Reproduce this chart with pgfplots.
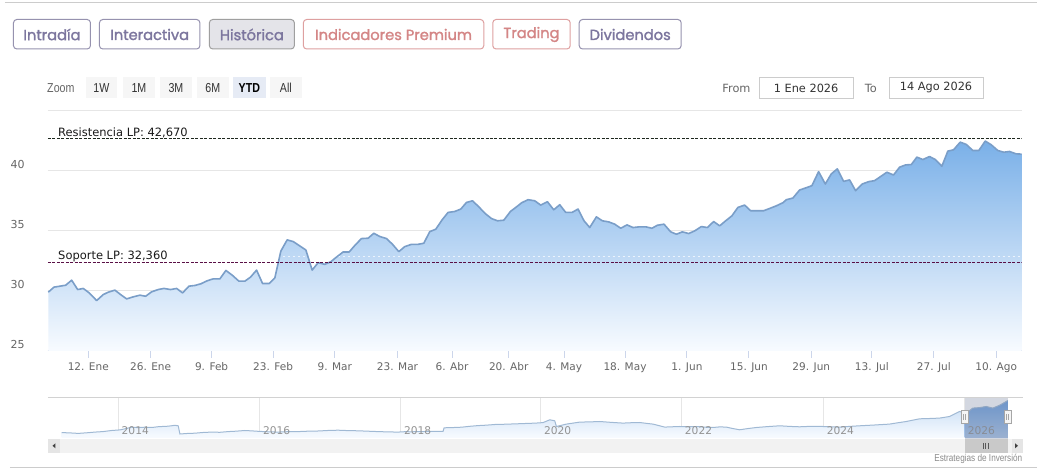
\documentclass[border=0pt]{standalone}
\usepackage{pgfplots}
\pgfplotsset{compat=1.18}
\usepackage{pgfplotstable}
\usepackage{fontspec}
\setmainfont{DejaVu Sans}
\newfontfamily\pop{Poppins}[FakeBold=1.6]
\newfontfamily\narrow{Liberation Sans}[FakeStretch=0.82]
\newfontfamily\lib{Liberation Sans}

\definecolor{btnpurple}{RGB}{124,118,158}
\definecolor{btnpurpleb}{RGB}{150,146,175}
\definecolor{btnred}{RGB}{212,134,134}
\definecolor{btnredb}{RGB}{222,160,160}
\definecolor{histfill}{RGB}{228,228,233}
\definecolor{gridc}{RGB}{230,230,230}
\definecolor{axisc}{RGB}{204,214,235}
\definecolor{tickc}{RGB}{102,102,102}
\definecolor{linec}{RGB}{122,158,200}
\definecolor{areatop}{RGB}{122,176,232}
\definecolor{areabot}{RGB}{248,251,255}
\definecolor{supc}{RGB}{90,16,70}
\definecolor{resc}{RGB}{30,40,30}
\definecolor{navtop}{RGB}{196,219,244}
\definecolor{navline}{RGB}{160,185,212}
\definecolor{navseltop}{RGB}{110,160,222}
\definecolor{navselbot}{RGB}{175,200,232}
\definecolor{ytdbg}{RGB}{230,235,245}
\definecolor{zbtn}{RGB}{246,246,246}

\pgfplotstableread{
x y
48.3 29.89
54 30.31
60 30.39
65.7 30.47
71.7 30.89
77.7 30.11
83.3 30.2
89.3 29.83
96.7 29.19
103.3 29.69
108.3 29.89
115 30.06
120.7 29.69
126.7 29.33
133.3 29.5
140 29.64
145.7 29.55
151.7 29.92
158.3 30.11
164 30.2
170.7 30.11
176.7 30.2
182.7 29.83
189 30.39
195 30.45
201 30.59
207.3 30.84
213.3 31.0
220 31.0
226 31.7
232.3 31.31
239 30.81
245 30.81
250.7 31.15
256.7 31.73
262.7 30.61
269.3 30.61
275 31.09
281 33.32
287.3 34.25
293.3 34.11
300 33.74
306 33.41
312.3 31.73
318.3 32.35
325 32.21
331 32.43
336.7 32.82
343.3 33.24
349.3 33.24
356 33.88
361.7 34.36
368.3 34.39
374 34.80
380 34.53
386.7 34.36
392.7 33.88
399 33.27
405 33.69
411.7 33.88
418.3 33.88
424 33.97
430 34.94
436 35.14
442.3 35.92
448.3 36.54
455 36.62
461 36.82
466.7 37.37
472.7 37.51
479 37.01
485 36.48
491.7 36.03
497.7 35.84
504 35.89
510.7 36.62
516.7 37.0
522 37.35
528.3 37.60
535 37.51
541 37.15
547.7 37.43
554 36.76
560 37.18
566 36.54
572.3 36.54
578.3 36.82
584.3 35.84
590 35.28
596.7 36.17
602.7 35.84
609 35.75
615 35.56
621 35.22
627.3 35.50
633.3 35.28
640 35.34
646 35.34
652.3 35.22
657.7 35.47
664.3 35.56
671 34.92
676.7 34.72
682.7 34.92
689 34.78
695 35.0
701.7 35.36
707.7 35.28
714 35.78
720 35.42
726 35.84
732.3 36.26
738.3 36.96
745 37.15
751 36.68
757.7 36.68
764 36.68
770 36.87
776.7 37.09
783.3 37.35
786.7 37.60
793.3 37.74
800 38.41
806 38.58
812.3 38.77
819 39.94
825.7 38.91
831.7 39.75
837.7 40.17
844 39.13
850 39.25
856 38.35
862.7 38.91
869.3 39.11
875 39.19
881 39.53
887.3 39.89
894 39.66
900 40.31
906 40.50
911.7 40.53
917.3 41.15
923.3 40.95
930 41.20
935.7 40.95
942.3 40.39
948.3 41.65
954 41.76
960.7 42.40
966.7 42.21
973.3 41.70
979.3 41.70
985.7 42.49
991.7 42.18
998.3 41.70
1004.3 41.56
1010 41.62
1016.7 41.42
1022 41.40
}\maindata

\pgfplotstableread{
x y
61.7 41.2
70 40.9
78.3 40.4
87 41.0
95 41.7
103 42.2
111.7 43.3
120 43.9
126 45.2
131.7 46.6
138 46.2
145 46.6
152 46.3
158.3 47.1
168.3 47.6
175 48.5
178.3 48.0
180 39.8
187 40.3
195 40.6
203 41.3
211.7 41.7
220 41.5
228.3 42.2
236 42.6
245 43.3
252 42.9
258.3 42.5
268 42.0
278.3 41.7
288 42.1
298.3 42.2
308 42.6
318.3 42.8
328 43.3
338.3 43.6
348 43.2
358.3 43.0
368 42.6
378.3 42.2
388 41.9
398.3 41.7
405 42.1
411.7 42.0
425 42.3
443.3 42.5
444.3 46.0
452 46.2
461.7 46.6
470 47.5
478.3 48.2
486 48.6
495 49.3
503 49.5
511.7 49.8
520 50.1
528.3 50.4
536 50.7
543.3 51.2
550 54.0
555 53.0
556.7 47.3
566.7 49.7
574 50.8
580 51.7
590 51.9
600 52.3
612 51.4
623.3 50.7
632 51.1
640 51.3
647 50.4
653.3 49.7
660 48.0
665 46.7
672 47.0
680 47.3
688 47.0
696.7 47.3
705 46.6
713.3 46.3
720 46.9
726.7 46.7
733 45.3
740 44.0
748 45.2
756.7 46.3
768 47.2
780 48.0
790 47.4
800 47.0
812 47.5
823.3 47.3
832 46.9
840 46.7
850 47.4
860 48.0
875 48.8
890 49.7
898 51.0
906.7 52.3
913 53.6
920 55.0
930 55.3
940 55.7
950 57.3
960 62.3
965 61.2
966.7 60.7
973.3 65.7
980 66.2
986.7 67.3
993.3 65.7
1000 68.5
1006.7 72.3
1008.3 73.3
}\navdata

\begin{document}
\begin{tikzpicture}
\begin{scope}[x=0.75pt,y=-0.75pt]
\path[use as bounding box, fill=white] (0,0) rectangle (1037,474);
\draw[color=gray!40, line width=0.75pt] (5,2.5) -- (1037,2.5);
% top buttons
\tikzset{btn/.style={line width=0.75pt, rounded corners=2.5pt}}
\draw[btn, btnpurpleb] (13.5,19.5) rectangle (90.5,49);
\node[text=btnpurple, font=\pop\fontsize{11}{13}\selectfont] at (52,34.5) {Intradía};
\draw[btn, btnpurpleb] (99.5,19.5) rectangle (200,49);
\node[text=btnpurple, font=\pop\fontsize{11}{13}\selectfont] at (149.75,34.5) {Interactiva};
\filldraw[btn, fill=histfill, draw=gray!75] (209.5,19.5) rectangle (294.5,49);
\node[text=btnpurple, font=\pop\fontsize{11}{13}\selectfont] at (252,34.5) {Histórica};
\draw[btn, btnredb] (303.5,19.5) rectangle (484,49);
\node[text=btnred, font=\pop\fontsize{11}{13}\selectfont] at (393.75,34.5) {Indicadores Premium};
\draw[btn, btnredb] (493,19.5) rectangle (570.5,49);
\node[text=btnred, font=\pop\fontsize{11}{13}\selectfont] at (531.75,34.5) {Trading};
\draw[btn, btnpurpleb] (579.5,19.5) rectangle (681.5,49);
\node[text=btnpurple, font=\pop\fontsize{11}{13}\selectfont] at (630.5,34.5) {Dividendos};
% zoom row
\node[anchor=west, inner sep=0pt, text=tickc, font=\narrow\fontsize{9.75}{11}\selectfont] at (47,88) {Zoom};
\fill[zbtn] (86,77) rectangle (117,98);
\node[text=black!80, font=\narrow\fontsize{9.75}{11}\selectfont] at (101.5,88) {1W};
\fill[zbtn] (123,77) rectangle (155,98);
\node[text=black!80, font=\narrow\fontsize{9.75}{11}\selectfont] at (139,88) {1M};
\fill[zbtn] (160,77) rectangle (192,98);
\node[text=black!80, font=\narrow\fontsize{9.75}{11}\selectfont] at (176,88) {3M};
\fill[zbtn] (197,77) rectangle (229,98);
\node[text=black!80, font=\narrow\fontsize{9.75}{11}\selectfont] at (213,88) {6M};
\fill[ytdbg] (233,77) rectangle (266,98);
\node[text=black, font=\narrow\bfseries\fontsize{9.75}{11}\selectfont] at (249.5,88) {YTD};
\fill[zbtn] (270,77) rectangle (302,98);
\node[text=black!80, font=\narrow\fontsize{9.75}{11}\selectfont] at (286,88) {All};
% from / to
\node[anchor=west, inner sep=0pt, text=tickc, font=\fontsize{8.5}{10}\selectfont] at (722.5,88) {From};
\draw[gray!40, line width=0.75pt] (759.5,77.5) rectangle (853.5,98.5);
\node[text=black!80, font=\fontsize{8.5}{10}\selectfont] at (806.5,88) {1 Ene 2026};
\node[anchor=west, inner sep=0pt, text=tickc, font=\fontsize{8.5}{10}\selectfont] at (865,88) {To};
\draw[gray!40, line width=0.75pt] (889.5,77.5) rectangle (983.5,98.5);
\node[text=black!80, font=\fontsize{8.5}{10}\selectfont] at (936.5,88) {14 Ago 2026};
\end{scope}

% main chart
\begin{axis}[
  at={(36pt,-263.25pt)}, anchor=south west, scale only axis,
  width=730.5pt, height=180pt,
  xmin=48, xmax=1022, ymin=25, ymax=45,
  axis x line*=bottom, axis y line*=left,
  x axis line style={color=axisc, line width=0.75pt},
  y axis line style={draw=none},
  tick align=outside, major tick length=5.25pt,
  xtick style={color=axisc, line width=0.75pt},
  ytick style={draw=none},
  ymajorgrids, grid style={color=gridc, line width=0.75pt},
  ytick={25,30,35,40,45}, yticklabels={25,30,35,40,{}},
  xtick={88.3,150.7,211.7,273.3,335,397.7,452.3,509,564.3,625.3,687.3,749.3,811.7,872.3,934.3,996.7},
  xticklabels={12. Ene,26. Ene,9. Feb,23. Feb,9. Mar,23. Mar,6. Abr,20. Abr,4. May,18. May,1. Jun,15. Jun,29. Jun,13. Jul,27. Jul,10. Ago},
  yticklabel style={anchor=east, inner sep=0pt, xshift=-12pt, yshift=4.5pt, font=\fontsize{8.25}{10}\selectfont, text=tickc},
  xticklabel style={anchor=base, inner sep=0pt, yshift=-9.5pt, font=\fontsize{7.9}{10}\selectfont, text=tickc},
  clip=true,
]
\addplot[draw=none, top color=areatop, bottom color=areabot] table[x=x,y=y] {\maindata} \closedcycle;
\addplot[white, line width=0.75pt, dash pattern=on 1.5pt off 2.25pt, opacity=0.7] coordinates {(48,32.86) (1022,32.86)};
\addplot[linec, line width=1.2pt, line join=round] table[x=x,y=y] {\maindata};
\addplot[resc, line width=0.75pt, dash pattern=on 2.25pt off 1.1pt] coordinates {(48,42.67) (1022,42.67)};
\addplot[supc, line width=0.75pt, dash pattern=on 2.25pt off 1.1pt] coordinates {(48,32.36) (1022,32.36)};
\end{axis}

% navigator
\begin{axis}[
  at={(36pt,-328.5pt)}, anchor=south west, scale only axis,
  width=731.25pt, height=30.75pt,
  xmin=48, xmax=1023, ymin=36, ymax=77,
  axis line style={draw=none}, tick style={draw=none},
  xtick={118.5,260,401,541,682,824,965}, xticklabels={},
  ytick=\empty,
  xmajorgrids, grid style={color=gridc, line width=0.75pt},
  clip=true,
]
\addplot[draw=none, top color=navtop, bottom color=areabot] table[x=x,y=y] {\navdata} \closedcycle;
\addplot[draw=none, top color=navseltop, bottom color=navselbot, restrict x to domain=965:1009] table[x=x,y=y] {\navdata} \closedcycle;
\addplot[navline, line width=0.75pt] table[x=x,y=y] {\navdata};
\end{axis}

\begin{scope}[x=0.75pt,y=-0.75pt]
\node[anchor=base west, inner sep=0pt, text=black!90, font=\fontsize{8.6}{10}\selectfont] at (58,137) {Resistencia LP: 42,670};
\node[anchor=base west, inner sep=0pt, text=black!90, font=\fontsize{8.6}{10}\selectfont] at (58,260) {Soporte LP: 32,360};
% navigator decorations
\draw[gray!35, line width=0.75pt] (48,397.5) -- (1023,397.5);
\foreach \xx/\yy in {121.5/2014,263/2016,404/2018,544/2020,685/2022,827/2024,968/2026}
  \node[anchor=west, inner sep=0pt, text=gray!85, font=\fontsize{8}{10}\selectfont] at (\xx,431) {\yy};
% scrollbar
\fill[gray!10] (48,439) rectangle (1023,453);
\fill[gray!20] (48,439) rectangle (60,453);
\fill[gray!20] (1012,439) rectangle (1023,453);
\fill[black!75] (52.5,446) -- (55.5,443.5) -- (55.5,448.5) -- cycle;
\fill[black!75] (1018.5,446) -- (1015.5,443.5) -- (1015.5,448.5) -- cycle;
\fill[gray!42] (965,439) rectangle (1008,453);
\foreach \gx in {983.5,986,988.5} \draw[black!65, line width=0.75pt] (\gx,443) -- (\gx,449);
% selection shade
\fill[fill={rgb,255:red,110;green,125;blue,155}, fill opacity=0.3] (965,398) rectangle (1008,439);
% handles
\foreach \hx in {965,1008} {
  \filldraw[fill=gray!8, draw=gray!70, line width=0.6pt] (\hx-3.5,411) rectangle (\hx+3.5,424);
  \draw[gray!70, line width=0.6pt] (\hx-1,414.5) -- (\hx-1,420.5) (\hx+1,414.5) -- (\hx+1,420.5);
}
\node[anchor=base east, inner sep=0pt, text=gray!90, font=\narrow\fontsize{7.5}{9}\selectfont] at (1023,462) {Estrategias de Inversión};
\draw[gray!40, line width=0.75pt] (10,467.5) -- (1037,467.5);
\end{scope}
\end{tikzpicture}
\end{document}
